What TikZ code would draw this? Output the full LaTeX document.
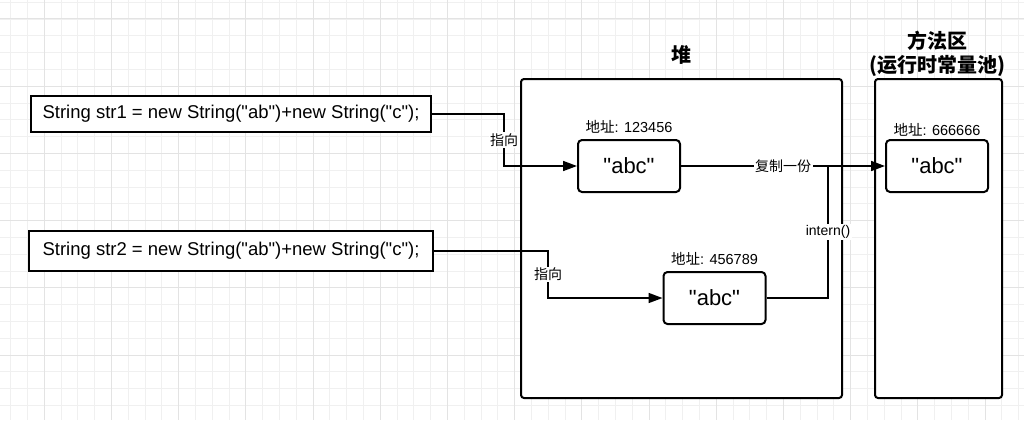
\documentclass[tikz,border=0pt]{standalone}
\usepackage{fontspec}
\setmainfont{Liberation Sans}[Ligatures=TeXOff]
\newfontfamily\cjk{Noto Sans CJK SC}
\usetikzlibrary{arrows.meta}
\usetikzlibrary{positioning}

\begin{document}
\begin{tikzpicture}[x=1pt,y=-1pt,
		minorline/.style={draw=black!6,line width=0.8pt},
		majorline/.style={draw=black!11,line width=1pt},
		codebox/.style={draw,line width=2pt,fill=white,minimum width=400pt,minimum height=36pt,inner sep=0pt,font=\fontsize{18.5}{20}\selectfont},
		area/.style={draw,line width=2pt,fill=white,rounded corners=3pt,inner sep=0pt},
		strbox/.style={draw,line width=2pt,fill=white,rounded corners=4pt,minimum width=102pt,minimum height=52pt,font=\fontsize{22}{24}\selectfont},
		addr/.style={inner sep=1pt,font=\fontsize{14.5}{16}\selectfont},
		tag/.style={fill=white,inner sep=1.5pt,font=\fontsize{14}{16}\selectfont},
		title/.style={align=center,font=\cjk\bfseries\fontsize{20}{24}\selectfont},
		link/.style={line width=1.6pt},
		tip/.style={-{Triangle[length=14pt,width=10pt]}}]
		\useasboundingbox (0,0) rectangle (1024,420);
		\fill[white] (0,0) rectangle (1024,420);
		\foreach \i in {0,...,62}
			\draw[minorline] ({-23+16.8*\i},0) -- ++(0,420);
		\foreach \j in {0,...,25}
			\draw[minorline] (0,{2.2+16.8*\j}) -- ++(1024,0);
		\foreach \i in {0,...,16}
			\draw[majorline] ({-23+67.2*\i},0) -- ++(0,420);
		\foreach \j in {0,...,6}
			\draw[majorline] (0,{19+67.2*\j}) -- ++(1024,0);
		\node[area,minimum width=321pt,minimum height=319pt] (heap) at (681.5,238.5) {};
		\node[area,minimum width=127pt,minimum height=319pt] (pool) at (938.5,238.5) {};
		\node[title,above=10pt of heap] {堆};
		\node[title] at (937,54) {方法区\\(运行时常量池)};
		\node[codebox] (str1) at (231,114) {String str1 = new String("ab")+new String("c");};
		\node[codebox,minimum width=404pt,minimum height=40pt] (str2) at (231,251) {String str2 = new String("ab")+new String("c");};
		\node[strbox] (a1) at (629,166) {"abc"};
		\node[strbox] (a2) at (714.5,298) {"abc"};
		\node[strbox] (a3) at (937,166) {"abc"};
		\node[addr,above=4pt of a1] {{\cjk 地址}: 123456};
		\node[addr,above=4pt of a2] {{\cjk 地址}: 456789};
		\node[addr,above=1pt of a3] {{\cjk 地址}: 666666};
		\coordinate (k1) at (504,0);
		\coordinate (k2) at (548,0);
		\coordinate (k3) at (828,0);
		\draw[link,tip] (str1.east) -- (str1.east -| k1) -- node[tag] {\cjk 指向} (k1 |- a1.west) -- (a1.west);
		\draw[link,tip] (str2.east) -- (str2.east -| k2) -- node[tag] {\cjk 指向} (k2 |- a2.west) -- (a2.west);
		\draw[link,tip] (a1.east) -- node[tag] {\cjk 复制一份} (a3.west);
		\draw[link] (a2.east) -- (a2.east -| k3) -- node[tag] {intern()} (k3 |- a1.east);
	\end{tikzpicture}
\end{document}
